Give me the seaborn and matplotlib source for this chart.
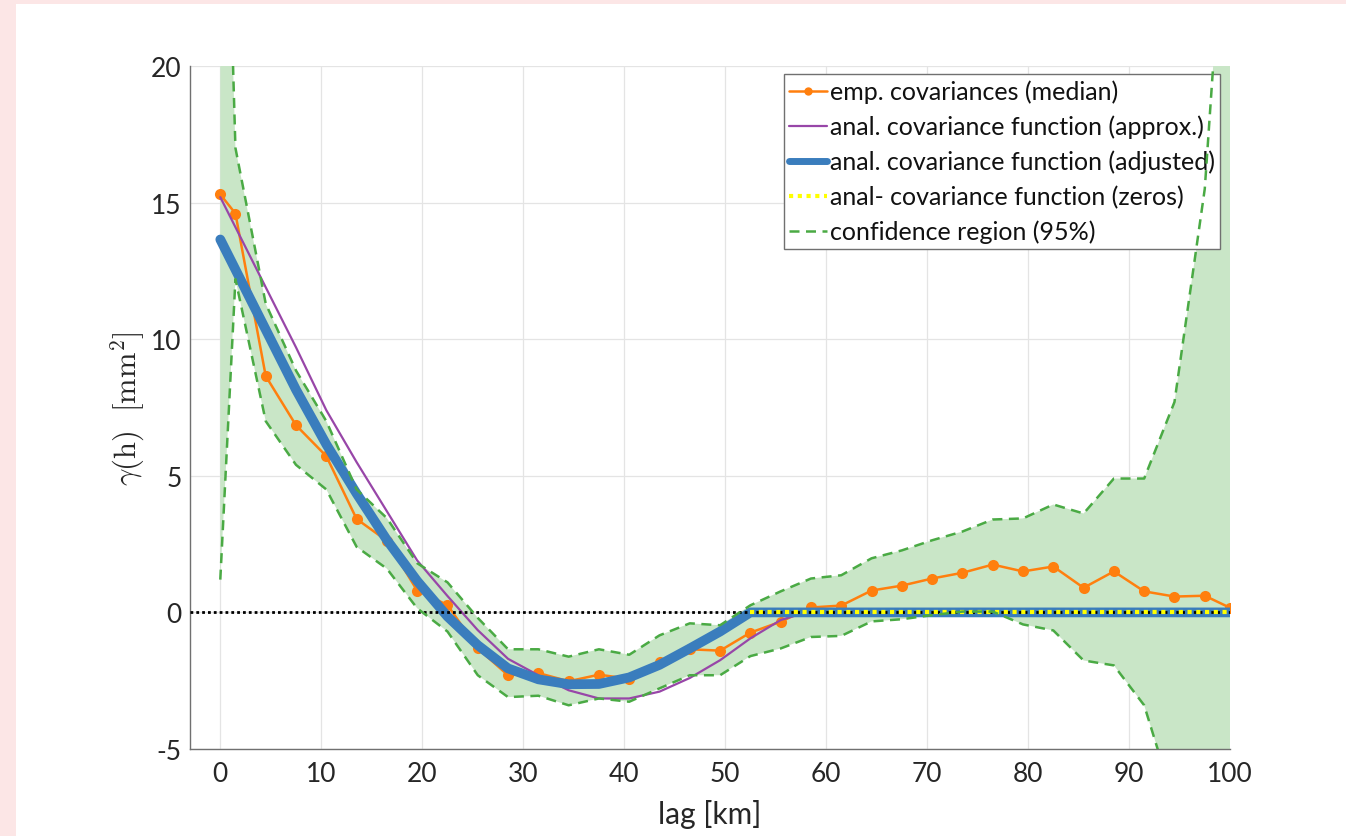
import numpy as np
import matplotlib
matplotlib.use("Agg")
import matplotlib.pyplot as plt
from matplotlib.patches import Rectangle
from matplotlib.lines import Line2D
import seaborn as sns

# lags [km] of the empirical covariances
lags = [0, 1.5, 4.5, 7.5, 10.5, 13.5, 16.5, 19.5, 22.5, 25.5, 28.5, 31.5, 34.5,
        37.5, 40.5, 43.5, 46.5, 49.5, 52.5, 55.5, 58.5, 61.5, 64.5, 67.5, 70.5,
        73.5, 76.5, 79.5, 82.5, 85.5, 88.5, 91.5, 94.5, 97.5, 100]

# empirical covariances (median)
emp_cov = [15.3, 14.6, 8.65, 6.85, 5.72, 3.42, 2.62, 0.8, 0.27, -1.32, -2.3, -2.22, -2.52,
           -2.28, -2.43, -1.8, -1.35, -1.4, -0.74, -0.34, 0.18, 0.25, 0.8, 0.98, 1.24,
           1.45, 1.75, 1.5, 1.68, 0.9, 1.5, 0.77, 0.58, 0.61, 0.17]

# confidence region (95%)
conf_upper = [36.0, 17.0, 11.3, 8.85, 7.0, 4.5, 3.45, 1.8, 1.1, -0.2, -1.35, -1.35, -1.62,
              -1.35, -1.55, -0.84, -0.4, -0.47, 0.26, 0.77, 1.24, 1.36, 1.98, 2.27, 2.64,
              2.96, 3.4, 3.44, 3.95, 3.62, 4.9, 4.9, 7.7, 15.5, 29.0]
conf_lower = [1.2, 12.2, 7.0, 5.4, 4.5, 2.4, 1.6, 0.15, -0.7, -2.3, -3.1, -3.05, -3.4,
              -3.15, -3.27, -2.78, -2.3, -2.3, -1.6, -1.32, -0.9, -0.86, -0.33, -0.25, -0.1,
              0.03, 0.03, -0.44, -0.66, -1.76, -1.94, -3.4, -7.0, -15.0, -25.0]

# analytical covariance function (approx.)
approx_lag = [0, 1.5, 4.5, 7.5, 10.5, 13.5, 16.5, 19.5, 22.5, 25.5, 28.5, 31.5, 34.5,
              37.5, 40.5, 43.5, 46.5, 49.5, 52.5, 55.5, 58.0]
approx_cov = [15.2, 14.1, 11.9, 9.7, 7.4, 5.5, 3.7, 1.9, 0.6, -0.65, -1.7, -2.3, -2.85,
              -3.15, -3.15, -2.9, -2.4, -1.75, -0.95, -0.28, 0.0]

# analytical covariance function (adjusted)
adj_lag = [0, 1.5, 4.5, 7.5, 10.5, 13.5, 16.5, 19.5, 22.5, 25.5, 28.5, 31.5, 34.5,
           37.5, 40.5, 43.5, 46.5, 49.5, 52.5, 100]
adj_cov = [13.65, 12.55, 10.35, 8.15, 6.15, 4.35, 2.65, 1.15, -0.15, -1.2, -2.05, -2.45,
           -2.63, -2.62, -2.38, -1.92, -1.32, -0.7, 0.0, 0.0]

# analytical covariance function (zeros)
zero_lag = [52.5, 100]
zero_cov = [0, 0]

labels = ["emp. covariances (median)",
          "anal. covariance function (approx.)",
          "anal. covariance function (adjusted)",
          "anal- covariance function (zeros)",
          "confidence region (95%)"]

sns.set_theme(style="white")
plt.rcParams["font.family"] = ["Lato", "DejaVu Sans"]
plt.rcParams["mathtext.fontset"] = "cm"
plt.rcParams["axes.unicode_minus"] = False

orange = "#ff7f0e"
purple = "#9846a8"
blue = "#3a7dbd"
green = "#4aaa44"
fill = "#c9e6c7"

fig = plt.figure(figsize=(13.46, 8.37), dpi=100, facecolor="#fce6e6")
fig.patches.append(Rectangle((16 / 1346, 0), 1, 1 - 5 / 837, transform=fig.transFigure,
                             facecolor="white", edgecolor="none", zorder=-10))
ax = fig.add_axes([190 / 1346, 1 - 750 / 837, 1040 / 1346, 683 / 837])
ax.set_facecolor("white")

ax.fill_between(lags, conf_lower, conf_upper, color=fill, lw=0, zorder=1)
ax.axhline(0, color="black", ls=(0, (1, 1.1)), lw=2.0, zorder=4.5)

sns.lineplot(x=lags, y=emp_cov, ax=ax, color=orange, lw=1.8, marker="o", markersize=8,
             markeredgewidth=0, sort=False, estimator=None, zorder=2)
sns.lineplot(x=approx_lag, y=approx_cov, ax=ax, color=purple, lw=1.6,
             sort=False, estimator=None, zorder=3)
sns.lineplot(x=adj_lag, y=adj_cov, ax=ax, color=blue, lw=7,
             sort=False, estimator=None, zorder=4)
sns.lineplot(x=zero_lag, y=zero_cov, ax=ax, color="yellow", lw=3, linestyle=(0, (1, 1.1)),
             sort=False, estimator=None, zorder=5)
for bound in (conf_upper, conf_lower):
    sns.lineplot(x=lags, y=bound, ax=ax, color=green, lw=1.8, linestyle=(0, (4, 2.6)),
                 sort=False, estimator=None, zorder=6)

ax.set_xlim(-3, 100)
ax.set_ylim(-5, 20)
ax.set_xticks(np.arange(0, 101, 10))
ax.set_yticks(np.arange(-5, 21, 5))
ax.grid(True, color="#e4e4e4", lw=0.9)
ax.set_axisbelow(True)
for side in ("top", "right"):
    ax.spines[side].set_visible(False)
for side in ("left", "bottom"):
    ax.spines[side].set_color("#707070")
    ax.spines[side].set_linewidth(1.0)
ax.tick_params(axis="both", direction="in", length=7, width=1, colors="#707070",
               labelcolor="#262626", labelsize=19)
ax.tick_params(axis="x", pad=9)
ax.tick_params(axis="y", pad=6)

ax.set_xlabel("lag [km]", fontsize=21.5, color="#262626", labelpad=9)
ax.set_ylabel(r"$\gamma(\mathrm{h})\ \ [\mathrm{mm}^2]$", fontsize=22, color="#262626",
              labelpad=3)

handles = [
    Line2D([], [], color=orange, lw=1.8, marker="o", markersize=6, markeredgewidth=0),
    Line2D([], [], color=purple, lw=1.6),
    Line2D([], [], color=blue, lw=5),
    Line2D([], [], color="yellow", lw=3, linestyle=(0, (1, 1.1))),
    Line2D([], [], color=green, lw=1.8, linestyle=(0, (4, 2.6))),
]
leg = ax.legend(handles, labels, loc="upper right", bbox_to_anchor=(0.9904, 0.988),
                borderaxespad=0, fontsize=18, frameon=True, fancybox=False,
                framealpha=1, edgecolor="#707070", handlelength=1.5, handletextpad=0.12,
                labelspacing=0.46, borderpad=0.22)
leg.get_frame().set_linewidth(1.0)
for t in leg.get_texts():
    t.set_color("#111111")

fig.savefig("out.png", dpi=100, facecolor=fig.get_facecolor())
